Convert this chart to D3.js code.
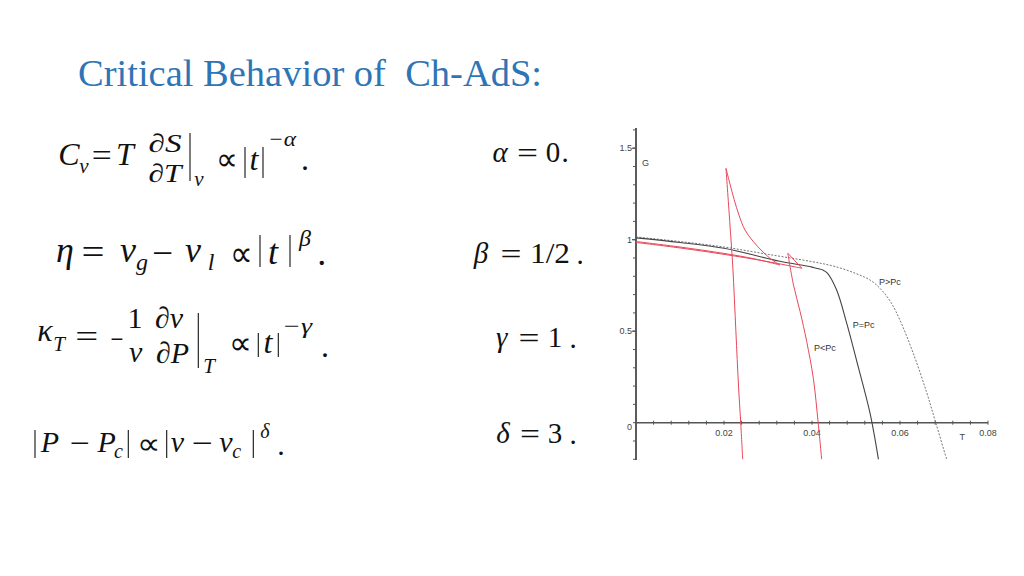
<!DOCTYPE html>
<html><head><meta charset="utf-8">
<script src="https://cdn.jsdelivr.net/npm/d3@7"></script>
<style>
html,body{margin:0;padding:0;background:#fff;}
svg text{white-space:pre;}
</style></head>
<body>
<svg id="c" width="1024" height="576"></svg>
<script>
// ---- data ----
const xTicks = [0.02, 0.04, 0.06, 0.08];
const xTickLabels = ["0.02", "0.04", "0.06", "0.08"];
const yTicks = [0, 0.5, 1, 1.5];
const yTickLabels = ["0", "0.5", "1", "1.5"];
const xMinor = d3.range(0.004, 0.0801, 0.004);
const yMinor = d3.range(-0.2, 1.61, 0.1);

// P = Pc (solid dark)
const T_eq = [0, 0.01, 0.02, 0.0327, 0.04, 0.0425, 0.0435, 0.0456, 0.0479, 0.0505, 0.0532, 0.0551];
const G_eq = [1.01, 0.985, 0.953, 0.882, 0.85, 0.834, 0.818, 0.725, 0.543, 0.306, 0.051, -0.2];
// P > Pc (dotted grey)
const T_gt = [0, 0.01, 0.02, 0.03, 0.04, 0.045, 0.05, 0.0535, 0.056, 0.058, 0.06, 0.063, 0.066, 0.068, 0.0706];
const G_gt = [1.015, 0.99, 0.96, 0.92, 0.88, 0.855, 0.815, 0.775, 0.72, 0.655, 0.56, 0.38, 0.17, 0.01, -0.2];
// P < Pc, first swallowtail (red): small branch, intermediate arc, large branch
const T_ltA = [0, 0.01, 0.02, 0.027, 0.0327, 0.03068, 0.02864, 0.02659, 0.02477, 0.02340, 0.02230, 0.02130, 0.02045, 0.0213, 0.022, 0.0227, 0.0233, 0.0238, 0.02425];
const G_ltA = [0.99, 0.96, 0.925, 0.895, 0.862, 0.894, 0.938, 0.992, 1.053, 1.135, 1.22, 1.31, 1.39, 1.1, 0.85, 0.5, 0.2, 0.0, -0.2];
// P < Pc, second swallowtail (red)
const T_ltB = [0, 0.01, 0.02, 0.03, 0.0377, 0.0345, 0.0358, 0.0373, 0.0388, 0.0403, 0.0414, 0.0422];
const G_ltB = [0.985, 0.955, 0.92, 0.88, 0.844, 0.926, 0.752, 0.607, 0.443, 0.243, 0.0, -0.2];

const curveLabels = ["P>Pc", "P=Pc", "P<Pc"];
const labelT = [0.0552, 0.04925, 0.04045];
const labelG = [0.754, 0.517, 0.39];

// ---- drawing ----
const svg = d3.select("#c");
const x = d3.scaleLinear().domain([0, 0.08]).range([636, 988]);
const y = d3.scaleLinear().domain([0, 1.5]).range([422.7, 148.2]);

// Title
svg.append("text").attr("x", 78).attr("y", 86)
  .attr("font-family", "Liberation Serif, Times New Roman, serif")
  .attr("font-size", 38.5).attr("fill", "#2E75B6")
  .text("Critical Behavior of  Ch-AdS:");

// Equations (tokens centred on positions)
const SERIF = "Liberation Serif, Times New Roman, serif";
function tok(t, cx, yy, s, it, w) {
  const el = svg.append("text").attr("x", cx).attr("y", yy)
    .attr("text-anchor", "middle")
    .attr("font-family", SERIF).attr("font-size", s)
    .attr("font-style", it ? "italic" : "normal")
    .attr("fill", "#111").text(t);
  if (w) el.attr("textLength", w).attr("lengthAdjust", "spacingAndGlyphs");
}
function bar(xx, y1, y2) {
  svg.append("line").attr("x1", xx).attr("x2", xx).attr("y1", y1).attr("y2", y2)
    .attr("stroke", "#111").attr("stroke-width", 1.1);
}
// Eq 1
tok("C", 69, 165, 32, true); tok("v", 84, 173, 21, true);
tok("=", 101.7, 166, 32, false, 20); tok("T", 125, 165, 32, true);
tok("\u2202S", 165, 152, 26, true, 33); tok("\u2202T", 165, 182, 26, true, 33);
bar(190, 133, 181); tok("v", 199, 186, 21, true);
tok("\u221D", 226.5, 170, 32, false, 22); bar(245, 147, 178); tok("t", 254, 170, 32, true); bar(263, 147, 178);
tok("\u2212\u03B1", 282, 146, 21, true, 28); tok(".", 305, 170, 32);
// Eq 2
tok("\u03B7", 65, 262, 36, true); tok("=", 93, 264, 36, false, 23);
tok("v", 128, 262, 36, true); tok("g", 142, 270, 24, true);
tok("\u2212", 162.5, 265, 36, false, 21);
tok("v", 193, 262, 36, true); tok("l", 211, 270, 24, true);
tok("\u221D", 241.7, 266, 36, false, 23); bar(260, 235, 267); tok("t", 273, 264, 36, true); bar(290, 235, 267);
tok("\u03B2", 305, 246, 24, true); tok(".", 321.7, 265, 36);
// Eq 3
tok("\u03BA", 45, 341, 32, true); tok("T", 59, 351, 21, true);
tok("=", 86.7, 347, 32, false, 23); tok("\u2212", 116.7, 350, 32, false, 13);
tok("1", 135, 328, 30); tok("v", 135.7, 362, 30, true);
tok("\u2202v", 169, 328, 30, true); tok("\u2202P", 172.5, 363, 30, true);
bar(198.3, 313, 368); tok("T", 209, 373, 21, true);
tok("\u221D", 240, 354, 32, false, 23); bar(258.3, 333, 357); tok("t", 268, 353, 32, true); bar(278.3, 333, 357);
tok("\u2212\u03B3", 297, 333, 21, true, 30); tok(".", 325, 357, 32);
// Eq 4
bar(35, 430, 458); tok("P", 50, 452, 30, true); tok("\u2212", 80, 453, 30, false, 20);
tok("P", 106.7, 452, 30, true); tok("c", 118.5, 458, 20, true); bar(128.3, 430, 458);
tok("\u221D", 148.3, 454, 30, false, 23); bar(166.7, 430, 458); tok("v", 177.5, 452, 30, true);
tok("\u2212", 202.5, 453, 30, false, 21); tok("v", 226, 452, 30, true); tok("c", 236.7, 458, 20, true);
bar(253.3, 430, 458); tok("\u03B4", 265, 438, 20, true); tok(".", 281, 455, 30);
// Right column
tok("\u03B1", 500, 162, 29, true); tok("=", 527.5, 163, 29, false, 21); tok("0", 553, 162, 29); tok(".", 565, 162, 29);
tok("\u03B2", 481, 263, 29, true); tok("=", 511, 264, 29, false, 21); tok("1/2", 550, 263, 29, false, 40); tok(".", 580, 264, 29);
tok("\u03B3", 501.7, 347, 29, true); tok("=", 529, 348, 29, false, 21); tok("1", 555, 347, 29); tok(".", 573, 348, 29);
tok("\u03B4", 503, 443, 29, true); tok("=", 530, 444, 29, false, 20); tok("3", 555, 443, 29); tok(".", 573, 444, 29);

// ---- plot ----
const g = svg.append("g");
const axCol = "#555";
g.append("line").attr("x1", x(0)).attr("x2", x(0)).attr("y1", y(1.61)).attr("y2", y(-0.204))
  .attr("stroke", "#333").attr("stroke-width", 1.6);
g.append("line").attr("x1", x(0)).attr("x2", x(0.08)).attr("y1", y(0)).attr("y2", y(0))
  .attr("stroke", axCol).attr("stroke-width", 1.6);
g.selectAll(".xm").data(xMinor).join("line")
  .attr("x1", d => x(d)).attr("x2", d => x(d)).attr("y1", y(0) - 2).attr("y2", y(0) + 2)
  .attr("stroke", axCol).attr("stroke-width", 1);
g.selectAll(".ym").data(yMinor).join("line")
  .attr("x1", x(0) - 3).attr("x2", x(0)).attr("y1", d => y(d)).attr("y2", d => y(d))
  .attr("stroke", axCol).attr("stroke-width", 1);
g.selectAll(".yM").data(yTicks.slice(1)).join("line")
  .attr("x1", x(0) - 4).attr("x2", x(0)).attr("y1", d => y(d)).attr("y2", d => y(d))
  .attr("stroke", axCol).attr("stroke-width", 1.2);
const LF = "Liberation Sans, Arial, sans-serif";
g.selectAll(".xl").data(xTicks).join("text")
  .attr("x", d => x(d)).attr("y", y(0) + 13).attr("text-anchor", "middle")
  .attr("font-family", LF).attr("font-size", 9).attr("fill", "#444")
  .text((d, i) => xTickLabels[i]);
g.selectAll(".yl").data(yTicks).join("text")
  .attr("x", x(0) - 4).attr("y", d => y(d) + (d === 0 ? 7 : 3)).attr("text-anchor", "end")
  .attr("font-family", LF).attr("font-size", 9).attr("fill", "#444")
  .text((d, i) => yTickLabels[i]);
g.append("text").attr("x", x(0) + 6).attr("y", y(1.405)).attr("font-family", LF)
  .attr("font-size", 9).attr("fill", "#444").text("G");
g.append("text").attr("x", x(0.0735)).attr("y", y(-0.095)).attr("font-family", LF)
  .attr("font-size", 9).attr("fill", "#444").text("T");

const line = d3.line().x(d => x(d[0])).y(d => y(d[1])).curve(d3.curveCatmullRom.alpha(0.5));
function zipTG(T, G) { return T.map((t, i) => [t, G[i]]); }
g.append("path").attr("d", line(zipTG(T_gt, G_gt))).attr("fill", "none")
  .attr("stroke", "#777").attr("stroke-width", 1).attr("stroke-dasharray", "2,1.5");
g.append("path").attr("d", line(zipTG(T_eq, G_eq))).attr("fill", "none")
  .attr("stroke", "#444").attr("stroke-width", 1.1);
function cuspSegs(T, G, cusps) {
  let segs = [], start = 0;
  cusps.concat([T.length - 1]).forEach(c => { segs.push(zipTG(T.slice(start, c + 1), G.slice(start, c + 1))); start = c; });
  return segs;
}
cuspSegs(T_ltA, G_ltA, [4, 12]).forEach(s =>
  g.append("path").attr("d", line(s)).attr("fill", "none").attr("stroke", "#E8485A").attr("stroke-width", 1));
cuspSegs(T_ltB, G_ltB, [4, 5]).forEach(s =>
  g.append("path").attr("d", line(s)).attr("fill", "none").attr("stroke", "#E8485A").attr("stroke-width", 1));

g.selectAll(".cl").data(curveLabels).join("text")
  .attr("x", (d, i) => x(labelT[i])).attr("y", (d, i) => y(labelG[i]))
  .attr("font-family", LF).attr("font-size", 9).attr("fill", "#333")
  .text(d => d);
</script>
</body></html>
